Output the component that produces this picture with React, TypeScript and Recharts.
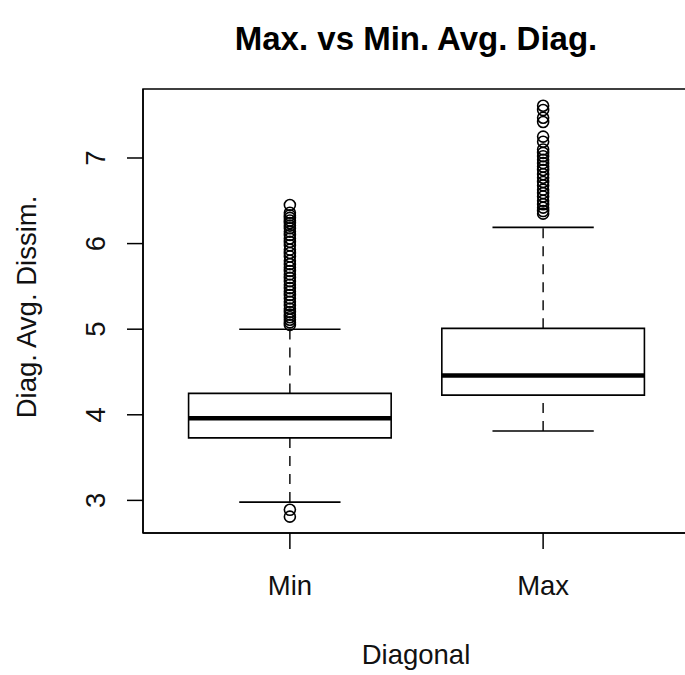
import {
  ComposedChart,
  XAxis,
  YAxis,
  Scatter,
  ReferenceArea,
  ReferenceLine,
} from 'recharts'

const categories = ['Min', 'Max']
const lowerWhisker = [2.98, 3.81]
const lowerHinge = [3.73, 4.23]
const medians = [3.96, 4.46]
const upperHinge = [4.25, 5.01]
const upperWhisker = [5.0, 6.19]

const minOutliers = [
  6.45, 6.36, 6.33, 6.3, 6.27, 6.24, 6.21, 6.18, 6.14, 6.1, 6.06, 6.02, 5.98, 5.93,
  5.89, 5.85, 5.8, 5.76, 5.72, 5.68, 5.64, 5.6, 5.56, 5.52, 5.48, 5.44, 5.4, 5.36,
  5.32, 5.28, 5.24, 5.2, 5.17, 5.14, 5.11, 5.08, 5.05, 2.89, 2.81,
]
const maxOutliers = [
  7.61, 7.56, 7.47, 7.42, 7.25, 7.19, 7.1, 7.06, 7.02, 6.98, 6.94, 6.9, 6.86, 6.81,
  6.77, 6.72, 6.68, 6.63, 6.59, 6.55, 6.5, 6.46, 6.42, 6.38, 6.35,
]

const yTicks = [3, 4, 5, 6, 7]
const xDomain = [0.42, 2.58]
const yDomain = [2.619, 7.806]

const positions = categories.map((_, i) => i + 1)
const outlierData = [
  ...minOutliers.map((v) => ({ x: 1, y: v })),
  ...maxOutliers.map((v) => ({ x: 2, y: v })),
]

const FONT = '"Liberation Sans", Arial, Helvetica, sans-serif'
const BOX_HALF = 0.4
const CAP_HALF = 0.2

function XTick({ x, y, payload }: any) {
  return (
    <text x={x} y={y} dy="0.71em" textAnchor="middle" fontSize={27.5} fontFamily={FONT} fill="#111">
      {categories[payload.value - 1]}
    </text>
  )
}

function YTick({ x, y, payload }: any) {
  return (
    <text
      x={x}
      y={y}
      transform={`rotate(-90 ${x} ${y})`}
      textAnchor="middle"
      fontSize={27.5}
      fontFamily={FONT}
      fill="#111"
    >
      {payload.value}
    </text>
  )
}

export default function App() {
  return (
    <div
      style={{
        position: 'absolute',
        left: 0,
        top: 0,
        width: 685,
        height: 675,
        overflow: 'hidden',
        background: '#fff',
        fontFamily: FONT,
      }}
    >
      <ComposedChart
        width={692}
        height={675}
        margin={{ top: 89, right: 2, bottom: 112, left: 83 }}
      >
        <XAxis
          type="number"
          dataKey="x"
          domain={xDomain}
          ticks={positions}
          allowDataOverflow
          height={30}
          tickSize={16}
          tickMargin={26}
          stroke="#000"
          strokeWidth={1.5}
          tick={<XTick />}
        />
        <YAxis
          type="number"
          dataKey="y"
          domain={yDomain}
          ticks={yTicks}
          allowDataOverflow
          width={60}
          tickSize={16}
          tickMargin={22}
          stroke="#000"
          strokeWidth={1.5}
          tick={<YTick />}
        />
        {/* plot frame */}
        <ReferenceArea
          x1={xDomain[0]}
          x2={xDomain[1]}
          y1={yDomain[0]}
          y2={yDomain[1]}
          fill="none"
          stroke="#000"
          strokeWidth={1.5}
          ifOverflow="visible"
        />
        {positions.map((p, i) => (
          <ReferenceLine
            key={`lw${i}`}
            segment={[{ x: p, y: lowerWhisker[i] }, { x: p, y: lowerHinge[i] }]}
            stroke="#000"
            strokeWidth={1.4}
            strokeDasharray="10 8"
          />
        ))}
        {positions.map((p, i) => (
          <ReferenceLine
            key={`uw${i}`}
            segment={[{ x: p, y: upperHinge[i] }, { x: p, y: upperWhisker[i] }]}
            stroke="#000"
            strokeWidth={1.4}
            strokeDasharray="10 8"
          />
        ))}
        {positions.map((p, i) => (
          <ReferenceLine
            key={`lc${i}`}
            segment={[{ x: p - CAP_HALF, y: lowerWhisker[i] }, { x: p + CAP_HALF, y: lowerWhisker[i] }]}
            stroke="#000"
            strokeWidth={1.6}
          />
        ))}
        {positions.map((p, i) => (
          <ReferenceLine
            key={`uc${i}`}
            segment={[{ x: p - CAP_HALF, y: upperWhisker[i] }, { x: p + CAP_HALF, y: upperWhisker[i] }]}
            stroke="#000"
            strokeWidth={1.6}
          />
        ))}
        {positions.map((p, i) => (
          <ReferenceArea
            key={`box${i}`}
            x1={p - BOX_HALF}
            x2={p + BOX_HALF}
            y1={lowerHinge[i]}
            y2={upperHinge[i]}
            fill="#fff"
            fillOpacity={1}
            stroke="#000"
            strokeWidth={1.6}
          />
        ))}
        {positions.map((p, i) => (
          <ReferenceLine
            key={`med${i}`}
            segment={[{ x: p - BOX_HALF, y: medians[i] }, { x: p + BOX_HALF, y: medians[i] }]}
            stroke="#000"
            strokeWidth={4.5}
          />
        ))}
        <Scatter
          data={outlierData}
          isAnimationActive={false}
          shape={(props: any) => (
            <circle cx={props.cx} cy={props.cy} r={5.5} fill="none" stroke="#000" strokeWidth={1.6} />
          )}
        />
      </ComposedChart>
      <div
        style={{
          position: 'absolute',
          left: 216,
          top: 22,
          width: 400,
          textAlign: 'center',
          fontSize: 33,
          lineHeight: '33px',
          fontWeight: 'bold',
          color: '#000',
        }}
      >
        Max. vs Min. Avg. Diag.
      </div>
      <div
        style={{
          position: 'absolute',
          left: 216,
          top: 641,
          width: 400,
          textAlign: 'center',
          fontSize: 27.5,
          lineHeight: '27.5px',
          color: '#111',
        }}
      >
        Diagonal
      </div>
      <div
        style={{
          position: 'absolute',
          left: 27 - 200,
          top: 307 - 14,
          width: 400,
          height: 28,
          textAlign: 'center',
          fontSize: 27.5,
          lineHeight: '28px',
          color: '#111',
          transform: 'rotate(-90deg)',
        }}
      >
        Diag. Avg. Dissim.
      </div>
    </div>
  )
}
